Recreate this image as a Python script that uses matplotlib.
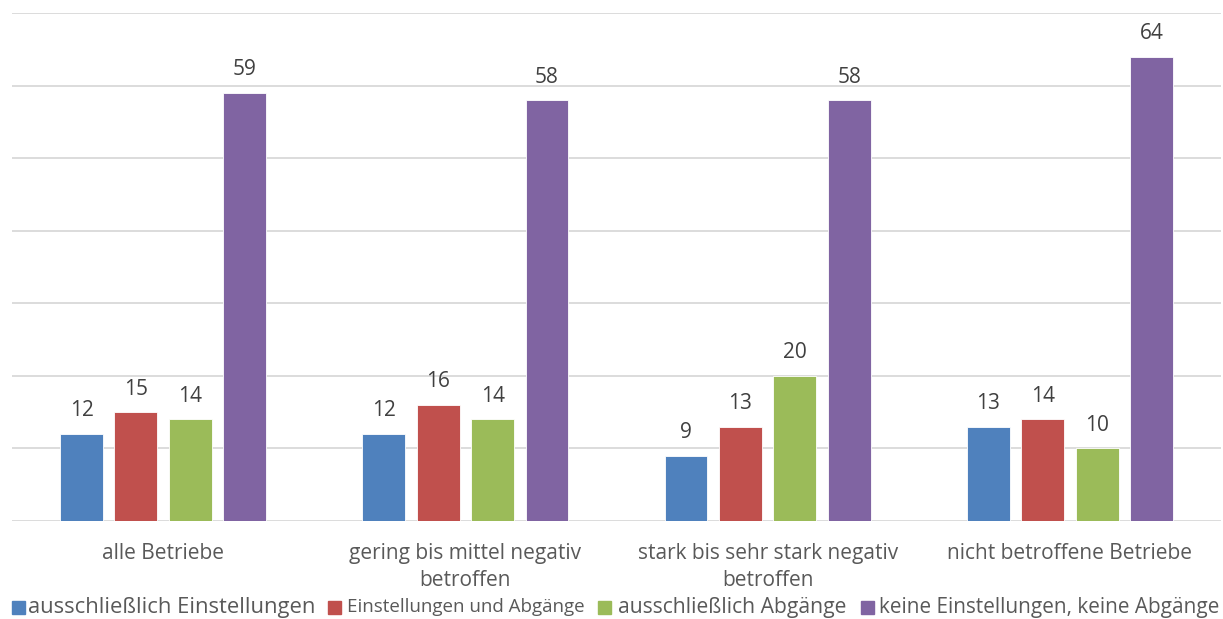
import numpy as np
import matplotlib
matplotlib.use("Agg")
import matplotlib.pyplot as plt
from matplotlib.patches import Rectangle

categories = ["alle Betriebe", "gering bis mittel negativ\nbetroffen",
              "stark bis sehr stark negativ\nbetroffen", "nicht betroffene Betriebe"]
series_names = ["ausschließlich Einstellungen", "Einstellungen und Abgänge",
                "ausschließlich Abgänge", "keine Einstellungen, keine Abgänge"]
nur_einstellungen = [12, 12, 9, 13]
einstellungen_abgaenge = [15, 16, 13, 14]
nur_abgaenge = [14, 14, 20, 10]
keine = [59, 58, 58, 64]
series_values = [nur_einstellungen, einstellungen_abgaenge, nur_abgaenge, keine]
colors = ["#4F81BD", "#C0504D", "#9BBB59", "#8064A2"]

plt.rcParams["font.family"] = ["Open Sans", "DejaVu Sans"]
text_color = "#595959"

W, H = 1223, 619
fig = plt.figure(figsize=(W / 100, H / 100), dpi=100)
ax = fig.add_axes([12 / W, 98 / H, (1221 - 12) / W, (521 - 13) / H])

x = np.arange(len(categories))
bw = 0.142
step = 0.18
offsets = (np.arange(4) - 1.5) * step
for vals, off, c in zip(series_values, offsets, colors):
    bars = ax.bar(x + off, vals, width=bw, color=c, edgecolor="white", linewidth=0.6, zorder=3)
    for b, v in zip(bars, vals):
        ax.annotate(f"{v}", (b.get_x() + b.get_width() / 2, v), xytext=(0, 9),
                    textcoords="offset points", ha="center", va="bottom",
                    fontsize=15, color="#404040")

ax.set_xlim(-0.5, len(categories) - 0.5)
ax.set_ylim(0, 70)
ax.set_yticks(np.arange(0, 71, 10))
ax.yaxis.grid(True, color="#D9D9D9", linewidth=1.3, zorder=0)
ax.tick_params(axis="y", left=False, labelleft=False)
ax.tick_params(axis="x", bottom=False, pad=12)
ax.set_xticks(x)
ax.set_xticklabels(categories, fontsize=15, color=text_color, linespacing=1.38)
for s in ax.spines.values():
    s.set_visible(False)

# legend row at the bottom: swatch x, text x, text width (pixels)
legend_items = [
    (12, 28, 287),
    (328, 347, 238),
    (598, 618, 229),
    (861, 879, 340),
]
ly = 607
renderer = fig.canvas.get_renderer()
for (sx, tx, tw), name, c in zip(legend_items, series_names, colors):
    fig.patches.append(Rectangle((sx / W, (H - ly - 7) / H), 13 / W, 13 / H,
                                 transform=fig.transFigure, color=c))
    t = fig.text(tx / W, (H - ly) / H, name, fontsize=15, color=text_color,
                 ha="left", va="center")
    w = t.get_window_extent(renderer).width
    t.set_fontsize(15 * tw / w)

fig.savefig("out.png", dpi=100, facecolor="white")
